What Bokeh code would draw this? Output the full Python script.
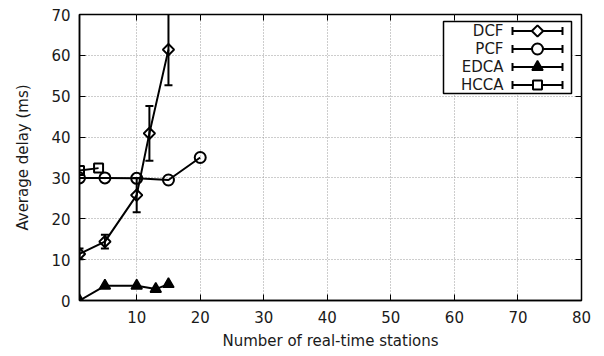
import math
from bokeh.plotting import figure
from bokeh.models import LinearAxis, FixedTicker, Range1d
from bokeh.core.properties import value
from bokeh.embed import file_html
from bokeh.resources import INLINE

# ---- data -------------------------------------------------------------
dcf_x = [1, 5, 10, 12, 15]
dcf_y = [11.4, 14.4, 25.8, 40.9, 61.4]
dcf_err = [1.3, 1.7, 4.2, 6.7, 8.7]

pcf_x = [1, 5, 10, 15, 20]
pcf_y = [30.0, 30.0, 29.9, 29.5, 35.0]

edca_x = [1, 5, 10, 13, 15]
edca_y = [0.0, 3.6, 3.6, 2.8, 4.0]

hcca_x = [1, 4]
hcca_y = [31.8, 32.4]

x_ticks = [10, 20, 30, 40, 50, 60, 70, 80]
y_ticks = [0, 10, 20, 30, 40, 50, 60, 70]

series_names = ["DCF", "PCF", "EDCA", "HCCA"]

# ---- geometry ---------------------------------------------------------
W, H = 604, 356
FL, FR, FT, FB = 79, 581, 14, 300          # frame edges in px
X0, X1, Y0, Y1 = 1, 80, 0, 70

FONT = "DejaVu Sans"
FS = "15px"
TXT = "#1a1a1a"
LW = 2


def px_x(px):
    return X0 + (px - FL) * (X1 - X0) / (FR - FL)


def px_y(py):
    return Y1 - (py - FT) * (Y1 - Y0) / (FB - FT)


p = figure(width=W, height=H, output_backend="svg", toolbar_location=None,
           x_range=Range1d(X0, X1), y_range=Range1d(Y0, Y1),
           min_border_left=FL, min_border_right=W - FR,
           min_border_top=FT, min_border_bottom=H - FB,
           x_axis_label="Number of real-time stations",
           y_axis_label="Average delay (ms)")
p.background_fill_color = "white"
p.border_fill_color = "white"
p.outline_line_color = "black"
p.outline_line_width = 1.5

for ax, ticks in ((p.xaxis[0], x_ticks), (p.yaxis[0], y_ticks)):
    ax.ticker = FixedTicker(ticks=ticks)
    ax.major_tick_in = 6
    ax.major_tick_out = 0
    ax.minor_tick_line_color = None
    ax.major_tick_line_color = "black"
    ax.major_tick_line_width = 1
    ax.axis_line_color = "black"
    ax.axis_line_width = 1.5
    ax.major_label_text_font = FONT
    ax.major_label_text_font_size = FS
    ax.major_label_text_color = TXT
    ax.axis_label_text_font = FONT
    ax.axis_label_text_font_size = FS
    ax.axis_label_text_font_style = "normal"
    ax.axis_label_text_color = TXT

p.xaxis[0].major_label_standoff = 10
p.xaxis[0].axis_label_standoff = 6
p.yaxis[0].major_label_standoff = 9
p.yaxis[0].axis_label_standoff = 16

# mirrored ticks on the top and right edges
for loc, ticks in (("above", x_ticks), ("right", y_ticks)):
    ax = LinearAxis(ticker=FixedTicker(ticks=ticks))
    ax.major_tick_in = 6
    ax.major_tick_out = 0
    ax.minor_tick_line_color = None
    ax.major_tick_line_color = "black"
    ax.axis_line_color = None
    ax.major_label_text_font_size = "0px"
    ax.major_label_text_alpha = 0
    ax.major_label_standoff = 0
    p.add_layout(ax, loc)

p.grid.grid_line_color = "#9a9a9a"
p.grid.grid_line_dash = "1 2"
p.grid.grid_line_width = 1

# ---- series -----------------------------------------------------------
# DCF with error bars
lo = [y - e for y, e in zip(dcf_y, dcf_err)]
hi = [y + e for y, e in zip(dcf_y, dcf_err)]
p.segment(x0=dcf_x, y0=lo, x1=dcf_x, y1=hi, line_color="black", line_width=LW)
p.scatter(x=dcf_x, y=lo, marker="dash", size=8, line_color="black", line_width=LW)
p.scatter(x=dcf_x, y=hi, marker="dash", size=8, line_color="black", line_width=LW)
p.line(dcf_x, dcf_y, line_color="black", line_width=LW)
p.scatter(dcf_x, dcf_y, marker="square", angle=math.pi / 4, size=8,
          line_color="black", line_width=LW, fill_color=None)

p.line(pcf_x, pcf_y, line_color="black", line_width=LW)
p.scatter(pcf_x, pcf_y, marker="circle", size=11,
          line_color="black", line_width=LW, fill_color=None)

p.line(edca_x, edca_y, line_color="black", line_width=LW)
p.scatter(edca_x, edca_y, marker="triangle", size=11,
          line_color="black", line_width=1.5, fill_color="black")

p.line(hcca_x, hcca_y, line_color="black", line_width=LW)
p.scatter(hcca_x, hcca_y, marker="square", size=9,
          line_color="black", line_width=LW, fill_color=None)

# ---- legend (text on the left, error-bar sample on the right) ---------
p.quad(left=[px_x(443)], right=[px_x(571)], top=[px_y(21)], bottom=[px_y(93)],
       fill_color="white", line_color="black", line_width=1.5, level="annotation")

row_py = [30.5, 48.5, 66.5, 84.5]
row_y = [px_y(v) for v in row_py]
xa, xb, xm = px_x(512), px_x(562), px_x(537)
p.text(x=[px_x(503)] * 4, y=row_y, text=series_names,
       text_font=value(FONT), text_font_size=FS, text_color=TXT,
       text_align="right", text_baseline="middle", level="overlay")
p.segment(x0=[xa] * 4, y0=row_y, x1=[xb] * 4, y1=row_y,
          line_color="black", line_width=LW, level="overlay")
for xe in (xa, xb):
    p.scatter(x=[xe] * 4, y=row_y, marker="dash", angle=math.pi / 2, size=8,
              line_color="black", line_width=LW, level="overlay")

specs = [
    dict(marker="square", angle=math.pi / 4, size=8, fill_color="white", line_width=LW),
    dict(marker="circle", size=11, fill_color="white", line_width=LW),
    dict(marker="triangle", size=11, fill_color="black", line_width=1.5),
    dict(marker="square", size=9, fill_color="white", line_width=LW),
]
for yy, spec in zip(row_y, specs):
    p.scatter(x=[xm], y=[yy], line_color="black", level="overlay", **spec)

open("out.html", "w").write(file_html(p, INLINE))
